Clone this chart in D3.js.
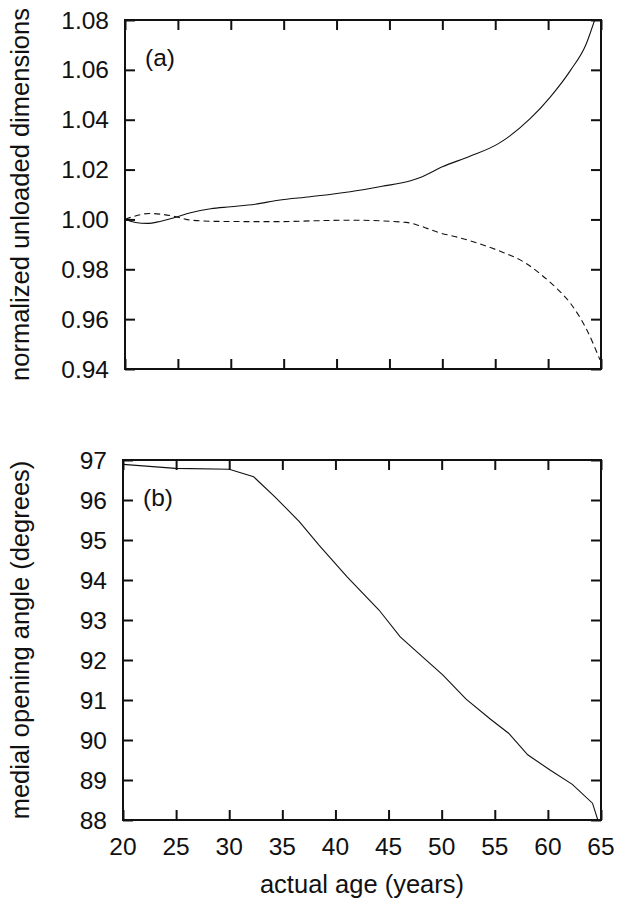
<!DOCTYPE html>
<html>
<head>
<meta charset="utf-8">
<script src="https://cdn.jsdelivr.net/npm/d3@7"></script>
<style>
  body { margin: 0; background: #fff; }
  svg { display: block; }
  text { font-family: "Liberation Sans", Arial, sans-serif; fill: #111; }
</style>
</head>
<body>
<svg id="chart" width="624" height="907"></svg>
<script>
// panel (a): normalized unloaded dimensions vs age
const ageA = [20, 21, 22.1, 23.3, 24.7, 26.2, 28.1, 30, 32.3, 34.5, 37.5, 41.3, 44.3, 47, 48.1, 50, 52.6, 55.3, 58.3, 60.2, 62.1, 63.6, 64.4];
const solidA = [1.000, 0.9988, 0.9984, 0.9992, 1.0008, 1.0027, 1.0043, 1.0051, 1.0061, 1.0077, 1.0091, 1.0111, 1.0133, 1.0155, 1.0171, 1.0211, 1.0253, 1.0304, 1.0404, 1.0491, 1.0597, 1.0704, 1.0800];
const ageDash = [20, 20.9, 22.3, 23.6, 25.1, 26.2, 28.9, 34.5, 38.3, 41.3, 46.6, 47.7, 49.6, 51.5, 53.4, 55.3, 57.9, 59.3, 60.7, 62.1, 63.6, 64.9];
const dashA = [1.000, 1.0013, 1.0024, 1.002, 1.0008, 0.9997, 0.9992, 0.9991, 0.9995, 0.9997, 0.9988, 0.9977, 0.9948, 0.9928, 0.9904, 0.9875, 0.9824, 0.9780, 0.9728, 0.9664, 0.9562, 0.9437];

// panel (b): medial opening angle vs age
const ageB = [20, 24.95, 30, 32.3, 34.3, 36.6, 38.45, 41.1, 44.1, 46.1, 48.2, 50.1, 52.3, 54.6, 56.3, 58.1, 60.2, 62.3, 64.2, 64.7];
const angleB = [96.89, 96.79, 96.77, 96.58, 96.08, 95.46, 94.87, 94.08, 93.25, 92.58, 92.08, 91.63, 91.02, 90.52, 90.17, 89.63, 89.25, 88.89, 88.42, 88.0];

const xTicks = [20, 25, 30, 35, 40, 45, 50, 55, 60, 65];
const yTicksA = [0.94, 0.96, 0.98, 1.00, 1.02, 1.04, 1.06, 1.08];
const yTicksB = [88, 89, 90, 91, 92, 93, 94, 95, 96, 97];

const svg = d3.select("#chart");
const tickLen = 10;
const tickFont = 24.5, titleFont = 25.5;

function panel(box, yDomain, yTicks, yFmt, tag, yTitle, showX) {
  const x = d3.scaleLinear().domain([20, 65]).range([box.left, box.right]);
  const y = d3.scaleLinear().domain(yDomain).range([box.bottom, box.top]);
  const g = svg.append("g");

  const clipId = "clip-" + tag;
  svg.append("clipPath").attr("id", clipId)
    .append("rect")
    .attr("x", box.left).attr("y", box.top)
    .attr("width", box.right - box.left).attr("height", box.bottom - box.top);

  // inward ticks on all four sides
  const axes = [
    [d3.axisBottom(x).tickValues(xTicks).tickSizeInner(-tickLen).tickSizeOuter(0), `translate(0,${box.bottom})`],
    [d3.axisTop(x).tickValues(xTicks).tickSizeInner(-tickLen).tickSizeOuter(0), `translate(0,${box.top})`],
    [d3.axisLeft(y).tickValues(yTicks).tickSizeInner(-tickLen).tickSizeOuter(0), `translate(${box.left},0)`],
    [d3.axisRight(y).tickValues(yTicks).tickSizeInner(-tickLen).tickSizeOuter(0), `translate(${box.right},0)`]
  ];
  axes.forEach(([ax, tr]) => {
    const a = g.append("g").attr("transform", tr).call(ax);
    a.select(".domain").remove();
    a.selectAll("line").attr("stroke", "#111").attr("stroke-width", 2);
    a.selectAll("text").remove();
  });

  // y labels
  g.selectAll(".ylab").data(yTicks).enter().append("text")
    .attr("x", box.left - 16).attr("y", d => y(d) + 8.5)
    .attr("text-anchor", "end").attr("font-size", tickFont)
    .text(yFmt);

  if (showX) {
    g.selectAll(".xlab").data(xTicks).enter().append("text")
      .attr("x", d => x(d)).attr("y", box.bottom + 35)
      .attr("text-anchor", "middle").attr("font-size", tickFont)
      .text(d => d);
  }

  g.append("rect")
    .attr("x", box.left).attr("y", box.top)
    .attr("width", box.right - box.left).attr("height", box.bottom - box.top)
    .attr("fill", "none").attr("stroke", "#111").attr("stroke-width", 2);

  g.append("text")
    .attr("x", box.left + 20).attr("y", box.top + 46)
    .attr("font-size", tickFont).text(`(${tag})`);

  g.append("text")
    .attr("transform", `translate(29,${(box.top + box.bottom) / 2}) rotate(-90)`)
    .attr("text-anchor", "middle").attr("font-size", titleFont)
    .text(yTitle);

  return { x, y, g, clipId };
}

const pa = panel({ left: 125, right: 601, top: 20, bottom: 369 }, [0.94, 1.08], yTicksA,
  d => d.toFixed(2), "a", "normalized unloaded dimensions", false);

const lineA = d3.line().curve(d3.curveMonotoneX).x(d => pa.x(d[0])).y(d => pa.y(d[1]));
pa.g.append("path")
  .datum(ageA.map((a, i) => [a, solidA[i]]))
  .attr("clip-path", `url(#${pa.clipId})`)
  .attr("d", lineA).attr("fill", "none").attr("stroke", "#111").attr("stroke-width", 1.1);
pa.g.append("path")
  .datum(ageDash.map((a, i) => [a, dashA[i]]))
  .attr("clip-path", `url(#${pa.clipId})`)
  .attr("d", lineA).attr("fill", "none").attr("stroke", "#111").attr("stroke-width", 1.1)
  .attr("stroke-dasharray", "6,4");

const pb = panel({ left: 123, right: 601, top: 460, bottom: 820 }, [88, 97], yTicksB,
  d => d, "b", "medial opening angle (degrees)", true);

const lineB = d3.line().x(d => pb.x(d[0])).y(d => pb.y(d[1]));
pb.g.append("path")
  .datum(ageB.map((a, i) => [a, angleB[i]]))
  .attr("clip-path", `url(#${pb.clipId})`)
  .attr("d", lineB).attr("fill", "none").attr("stroke", "#111").attr("stroke-width", 1.1);

svg.append("text")
  .attr("x", (123 + 601) / 2).attr("y", 893)
  .attr("text-anchor", "middle").attr("font-size", titleFont)
  .text("actual age (years)");
</script>
</body>
</html>
